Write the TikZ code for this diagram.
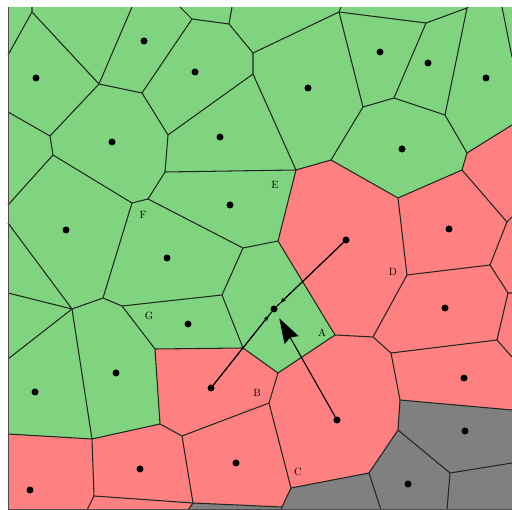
\documentclass[tikz,border=0pt]{standalone}
\usetikzlibrary{arrows.meta}
\definecolor{cgreen}{RGB}{128,212,128}
\definecolor{cred}{RGB}{255,128,128}
\definecolor{cgray}{RGB}{128,128,128}
\definecolor{cline}{RGB}{30,40,30}
\begin{document}
\begin{tikzpicture}[x=1pt,y=-1pt,
  edge/.style={line width=1.05pt,cline},
  site/.style={circle,fill=black,inner sep=0pt,minimum size=7pt},
  lbl/.style={font=\fontsize{10.5}{11}\selectfont,inner sep=0pt},
  frame/.style={line width=1pt,black!70}]
\useasboundingbox (0,0) rectangle (512,510);
\fill[cgreen] (8,7) rectangle (512,510);
% boundary points
\coordinate (t1) at (32,7);
\coordinate (t2) at (132,7);
\coordinate (t3) at (180,7);
\coordinate (t4) at (232,7);
\coordinate (t5) at (341,7);
\coordinate (t6) at (468,7);
\coordinate (t7) at (502,7);
\coordinate (l1) at (8,55);
\coordinate (l2) at (8,112);
\coordinate (l3) at (8,205);
\coordinate (l4) at (8,223);
\coordinate (l5) at (8,293);
\coordinate (l6) at (8,359);
\coordinate (l7) at (8,434);
\coordinate (lb) at (8,510);
\coordinate (r1) at (512,57);
\coordinate (r2) at (512,125);
\coordinate (r3) at (512,217);
\coordinate (r4) at (512,293);
\coordinate (r5) at (512,357);
\coordinate (r6) at (512,410);
\coordinate (r7) at (512,463);
\coordinate (rb) at (512,510);
\coordinate (b1) at (87,510);
\coordinate (b2) at (188,510);
\coordinate (b3) at (281,510);
\coordinate (b4) at (381,510);
\coordinate (b5) at (447,510);
% vertices
\coordinate (v1) at (32,12);
\coordinate (v2) at (99,84);
\coordinate (v3) at (142,93);
\coordinate (v4) at (192,19);
\coordinate (v5) at (229,24);
\coordinate (v6) at (253,53);
\coordinate (v7) at (253,74);
\coordinate (v8) at (339,12);
\coordinate (v9) at (426,23);
\coordinate (v10) at (467,8);
\coordinate (v11) at (394,98);
\coordinate (v12) at (445,115);
\coordinate (v13) at (467,153);
\coordinate (v14) at (462,170);
\coordinate (v15) at (398,198);
\coordinate (v16) at (331,160);
\coordinate (v17) at (363,107);
\coordinate (v18) at (507,222);
\coordinate (v19) at (490,265);
\coordinate (v20) at (508,293);
\coordinate (v21) at (497,340);
\coordinate (v22) at (391,353);
\coordinate (v23) at (400,400);
\coordinate (v24) at (398,430);
\coordinate (v25) at (450,473);
\coordinate (v26) at (369,473);
\coordinate (vD) at (407,275);
\coordinate (vE) at (296,170);
\coordinate (vA) at (335,335);
\coordinate (vC) at (291,488);
\coordinate (vFa) at (132,203);
\coordinate (vFb) at (148,199);
\coordinate (v28) at (50,136);
\coordinate (v29) at (53,155);
\coordinate (v30) at (165,172);
\coordinate (v31) at (168,135);
\coordinate (v32) at (243,248);
\coordinate (v33) at (278,241);
\coordinate (v34) at (222,295);
\coordinate (v35) at (243,348);
\coordinate (v36) at (278,373);
\coordinate (v37) at (373,337);
\coordinate (v38) at (269,403);
\coordinate (v39) at (72,309);
\coordinate (v40) at (103,298);
\coordinate (v41) at (92,439);
\coordinate (v42) at (122,306);
\coordinate (v43) at (155,349);
\coordinate (v44) at (160,424);
\coordinate (v45) at (182,436);
\coordinate (v46) at (193,503);
\coordinate (v47) at (94,496);
\coordinate (v48) at (282,507);
% red cells
\fill[cred] (vE) -- (v16) -- (v15) -- (vD) -- (v37) -- (vA) -- (v33) -- cycle;
\fill[cred] (v15) -- (v14) -- (v18) -- (v19) -- (vD) -- cycle;
\fill[cred] (v13) -- (r2) -- (r3) -- (v18) -- (v14) -- cycle;
\fill[cred] (v18) -- (r3) -- (r4) -- (v20) -- (v19) -- cycle;
\fill[cred] (vD) -- (v19) -- (v20) -- (v21) -- (v22) -- (v37) -- cycle;
\fill[cred] (v20) -- (r4) -- (r5) -- (v21) -- cycle;
\fill[cred] (v22) -- (v21) -- (r5) -- (r6) -- (v23) -- cycle;
\fill[cred] (vA) -- (v37) -- (v22) -- (v23) -- (v24) -- (v26) -- (vC) -- (v38) -- (v36) -- cycle;
\fill[cred] (v35) -- (v36) -- (v38) -- (v45) -- (v44) -- (v43) -- cycle;
\fill[cred] (v45) -- (v38) -- (vC) -- (v48) -- (v46) -- cycle;
\fill[cred] (v44) -- (v45) -- (v46) -- (v47) -- (v41) -- cycle;
\fill[cred] (l7) -- (v41) -- (v47) -- (b1) -- (lb) -- cycle;
\fill[cred] (v47) -- (v46) -- (b2) -- (b1) -- cycle;
% gray cells
\fill[cgray] (v46) -- (v48) -- (b3) -- (b2) -- cycle;
\fill[cgray] (b3) -- (v48) -- (vC) -- (v26) -- (b4) -- cycle;
\fill[cgray] (v26) -- (v24) -- (v25) -- (b5) -- (b4) -- cycle;
\fill[cgray] (v23) -- (r6) -- (r7) -- (v25) -- (v24) -- cycle;
\fill[cgray] (v25) -- (r7) -- (rb) -- (b5) -- cycle;
% edges
\draw[edge] (t1) -- (v1) (v1) -- (l1) (v1) -- (v2);
\draw[edge] (t2) -- (v2) (v2) -- (v3) (v2) -- (v28);
\draw[edge] (v3) -- (v4) (v3) -- (v31);
\draw[edge] (t3) -- (v4) (v4) -- (v5);
\draw[edge] (t4) -- (v5) (v5) -- (v6);
\draw[edge] (v6) -- (v8) (v6) -- (v7);
\draw[edge] (v7) -- (v31) (v7) -- (vE);
\draw[edge] (t5) -- (v8) (v8) -- (v9) (v8) -- (v17);
\draw[edge] (v9) -- (v10) (v9) -- (v11);
\draw[edge] (v10) -- (t6) (v10) -- (v12);
\draw[edge] (t7) -- (r1);
\draw[edge] (v11) -- (v17) (v11) -- (v12);
\draw[edge] (v12) -- (v13);
\draw[edge] (v13) -- (r2) (v13) -- (v14);
\draw[edge] (v14) -- (v15) (v14) -- (v18);
\draw[edge] (v15) -- (v16) (v15) -- (vD);
\draw[edge] (v16) -- (v17) (v16) -- (vE);
\draw[edge] (v18) -- (r3) (v18) -- (v19);
\draw[edge] (v19) -- (vD) (v19) -- (v20);
\draw[edge] (v20) -- (r4) (v20) -- (v21);
\draw[edge] (v21) -- (v22) (v21) -- (r5);
\draw[edge] (v22) -- (v37) (v22) -- (v23);
\draw[edge] (v23) -- (r6) (v23) -- (v24);
\draw[edge] (v24) -- (v25) (v24) -- (v26);
\draw[edge] (v25) -- (r7) (v25) -- (b5);
\draw[edge] (v26) -- (vC) (v26) -- (b4);
\draw[edge] (vC) -- (v38) (vC) -- (v48) (v48) -- (b3);
\draw[edge] (v28) -- (l2) (v28) -- (v29);
\draw[edge] (v29) -- (l3) (v29) -- (vFa);
\draw[edge] (vFa) -- (vFb) (vFa) -- (v40);
\draw[edge] (vFb) -- (v30) (vFb) -- (v32);
\draw[edge] (v30) -- (v31) (v30) -- (vE);
\draw[edge] (vE) -- (v33);
\draw[edge] (v32) -- (v33) (v32) -- (v34);
\draw[edge] (v33) -- (vA);
\draw[edge] (v34) -- (v42) (v34) -- (v35);
\draw[edge] (v35) -- (v43) (v35) -- (v36);
\draw[edge] (v36) -- (vA) (v36) -- (v38);
\draw[edge] (vA) -- (v37) (v37) -- (vD);
\draw[edge] (v38) -- (v45);
\draw[edge] (l4) -- (v39) (l5) -- (v39) (l6) -- (v39);
\draw[edge] (v39) -- (v40) (v39) -- (v41);
\draw[edge] (v40) -- (v42) (v42) -- (v43) (v43) -- (v44);
\draw[edge] (v44) -- (v45) (v44) -- (v41);
\draw[edge] (v41) -- (l7) (v41) -- (v47);
\draw[edge] (v45) -- (v46);
\draw[edge] (v46) -- (v47) (v46) -- (v48) (v46) -- (b2);
\draw[edge] (v47) -- (b1);
% frame
\draw[frame] (8.5,7) -- (8.5,509.5) -- (512,509.5);
% sites
\node[site] (s1) at (36,78) {};
\node[site] (s2) at (144,41) {};
\node[site] (s3) at (195,72) {};
\node[site] (s4) at (112,142) {};
\node[site] (s5) at (220,137) {};
\node[site] (s6) at (230,205) {};
\node[site] (s7) at (66,230) {};
\node[site] (s8) at (167,258) {};
\node[site] (s9) at (188,324) {};
\node[site] (s10) at (116,373) {};
\node[site] (s11) at (35,392) {};
\node[site] (s12) at (211,388) {};
\node[site] (s13) at (140,469) {};
\node[site] (s14) at (236,463) {};
\node[site] (s15) at (30,490) {};
\node[site] (s16) at (308,88) {};
\node[site] (s17) at (380,52) {};
\node[site] (s18) at (428,63) {};
\node[site] (s19) at (486,78) {};
\node[site] (s20) at (402,149) {};
\node[site] (s21) at (346,240) {};
\node[site] (s22) at (449,229) {};
\node[site] (s23) at (274,309) {};
\node[site] (s24) at (337,420) {};
\node[site] (s25) at (445,308) {};
\node[site] (s26) at (464,378) {};
\node[site] (s27) at (465,431) {};
\node[site] (s28) at (408,484) {};
% arrows
\draw[line width=1pt] (s21) -- (s23) (s12) -- (s23);
\draw[line width=1pt,-{Stealth[length=6pt,width=4.5pt]},shorten >=5pt] (s21) -- (s23);
\draw[line width=1pt,-{Stealth[length=6pt,width=4.5pt]},shorten >=4.5pt] (s12) -- (s23);
\draw[line width=1.1pt,-{Stealth[length=25pt,width=16pt,inset=3pt]},shorten >=7pt] (s24) -- (s23);
% labels
\node[lbl] (lE) at (275,185) {E};
\node[lbl] (lF) at (143,215) {F};
\node[lbl] (lG) at (149,316) {G};
\node[lbl] (lD) at (393,272) {D};
\node[lbl] (lA) at (322,333) {A};
\node[lbl] (lB) at (257,393) {B};
\node[lbl] (lC) at (298,472) {C};
\end{tikzpicture}
\end{document}
